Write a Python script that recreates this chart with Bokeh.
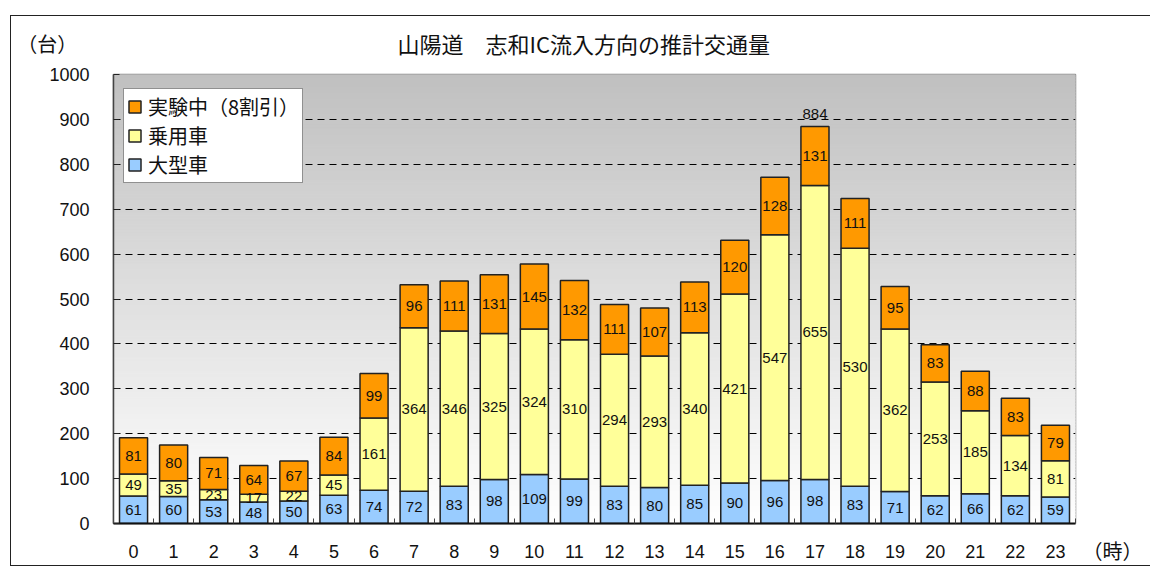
import numpy as np
from bokeh.plotting import figure
from bokeh.models import ColumnDataSource, FixedTicker, Legend, LegendItem
from bokeh.core.properties import value
from bokeh.embed import file_html
from bokeh.resources import INLINE

# ---- data ----
hours = list(range(24))
large = [61, 60, 53, 48, 50, 63, 74, 72, 83, 98, 109, 99, 83, 80, 85, 90, 96, 98, 83, 71, 62, 66, 62, 59]
car = [49, 35, 23, 17, 22, 45, 161, 364, 346, 325, 324, 310, 294, 293, 340, 421, 547, 655, 530, 362, 253, 185, 134, 81]
exp = [81, 80, 71, 64, 67, 84, 99, 96, 111, 131, 145, 132, 111, 107, 113, 120, 128, 131, 111, 95, 83, 88, 83, 79]
series_names = ["大型車", "乗用車", "実験中（8割引）"]
y_ticks = [0, 100, 200, 300, 400, 500, 600, 700, 800, 900, 1000]
title_text = "山陽道　志和IC流入方向の推計交通量"
y_unit = "（台）"
x_unit = "（時）"

colors = ["#99CCFF", "#FFFF99", "#FF9900"]
NUM = "Liberation Sans"
JP = "Noto Sans CJK JP"

la = np.array(large)
ca = np.array(car)
ea = np.array(exp)
total = la + ca + ea

src = ColumnDataSource(dict(
    x=hours, large=large, car=car, exp=exp,
    y_large=la / 2, y_car=la + ca / 2, y_exp=la + ca + ea / 2,
    t_large=[str(v) for v in large], t_car=[str(v) for v in car], t_exp=[str(v) for v in exp],
))

p = figure(width=1140, height=551, x_range=(-0.5, 23.5), y_range=(0, 1000),
           output_backend="svg", toolbar_location=None, title=None,
           min_border_left=102, min_border_right=76, min_border_top=58, min_border_bottom=44)
p.styles = {"border": "1px solid #222222", "border-right": "none",
            "margin-left": "10px", "margin-top": "15px"}

# gradient background of the plot area
n = 150
edges = np.linspace(0, 1000, n + 1)
mid = (edges[:-1] + edges[1:]) / 2
g = np.round(255 - 63 * mid / 1000).astype(int)
gcols = ["#%02x%02x%02x" % (v, v, v) for v in g]
p.quad(left=-0.5, right=23.5, bottom=edges[:-1], top=edges[1:], fill_color=gcols,
       line_color=gcols, line_width=1, level="image")

# grid
p.xgrid.visible = False
p.ygrid.ticker = FixedTicker(ticks=y_ticks[1:-1])
p.ygrid.grid_line_color = "#000000"
p.ygrid.grid_line_dash = "7 5"
p.ygrid.grid_line_width = 1

# bars
rs = p.vbar_stack(["large", "car", "exp"], x="x", width=0.7, source=src,
                  fill_color=colors, line_color="#222222", line_width=1.5)

for yc, tc in [("y_large", "t_large"), ("y_car", "t_car"), ("y_exp", "t_exp")]:
    p.text(x="x", y=yc, text=tc, source=src, text_align="center", text_baseline="middle",
           text_font=value(NUM), text_font_size="15px", text_color="#111111")

imax = int(np.argmax(total))
p.text(x=[hours[imax]], y=[int(total[imax])], text=[str(int(total[imax]))],
       text_align="center", text_baseline="bottom", y_offset=-8,
       text_font=value(NUM), text_font_size="15px", text_color="#111111")

# axes
p.outline_line_color = "#888888"
p.outline_line_width = 1.5
p.yaxis.ticker = FixedTicker(ticks=y_ticks)
p.yaxis.major_tick_in = 6
p.yaxis.major_tick_out = 0
p.yaxis.minor_tick_line_color = None
p.yaxis.axis_line_color = "#444444"
p.yaxis.axis_line_width = 1.5
p.yaxis.major_tick_line_color = "#222222"
p.yaxis.major_label_text_font = NUM
p.yaxis.major_label_text_font_size = "18px"
p.yaxis.major_label_text_color = "#111111"
p.yaxis.major_label_standoff = 24

p.xaxis.ticker = FixedTicker(ticks=hours, minor_ticks=[h - 0.5 for h in hours] + [23.5])
p.xaxis.major_tick_in = 0
p.xaxis.major_tick_out = 0
p.xaxis.minor_tick_in = 5
p.xaxis.minor_tick_out = 0
p.xaxis.minor_tick_line_color = "#444444"
p.xaxis.axis_line_color = "#111111"
p.xaxis.axis_line_width = 2
p.xaxis.major_label_text_font = NUM
p.xaxis.major_label_text_font_size = "18px"
p.xaxis.major_label_text_color = "#111111"
p.xaxis.major_label_standoff = 21

# title and unit labels (overlay level so they may sit outside the plot area)
p.text(x=[11.23], y=[1071], text=[title_text], text_align="center", text_baseline="middle",
       text_font=value(JP), text_font_size="22px", text_color="#111111", level="overlay")
p.text(x=[-2.15], y=[1069], text=[y_unit], text_align="center", text_baseline="middle",
       text_font=value(JP), text_font_size="20px", text_color="#111111", level="overlay")
p.text(x=[24.42], y=[-60], text=[x_unit], text_align="center", text_baseline="middle",
       text_font=value(JP), text_font_size="20px", text_color="#111111", level="overlay")

# legend
items = [LegendItem(label=series_names[2], renderers=[rs[2]]),
         LegendItem(label=series_names[1], renderers=[rs[1]]),
         LegendItem(label=series_names[0], renderers=[rs[0]])]
leg = Legend(items=items, location=(10, 340), orientation="vertical",
             label_text_font=JP, label_text_font_size="20px",
             label_text_color="#111111",
             glyph_width=15, glyph_height=15, label_height=26, spacing=0, padding=3, margin=0,
             label_standoff=6, border_line_color="#222222", border_line_width=1,
             background_fill_color="white", background_fill_alpha=1.0)
p.add_layout(leg)

open("out.html", "w").write(file_html(p, INLINE))
